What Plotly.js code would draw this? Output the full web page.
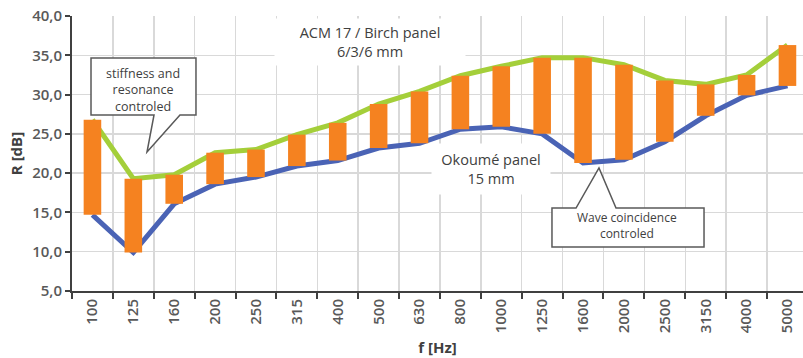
<!DOCTYPE html>
<html>
<head>
<meta charset="utf-8">
<script src="https://cdn.plot.ly/plotly-3.0.1.min.js"></script>
<style>html,body{margin:0;padding:0;background:#fff;}#chart{width:803px;height:358px;}</style>
</head>
<body>
<div id="chart"></div>
<script>
// Frequency bands (Hz)
const freqs = ["100","125","160","200","250","315","400","500","630","800","1000","1250","1600","2000","2500","3150","4000","5000"];
// ACM 17 / Birch panel 6/3/6 mm, R [dB]
const acmBirch = [26.8, 19.3, 19.8, 22.6, 23.0, 24.9, 26.4, 28.8, 30.4, 32.4, 33.6, 34.7, 34.7, 33.8, 31.8, 31.3, 32.5, 36.3];
// Okoumé panel 15 mm, R [dB]
const okoume = [14.7, 9.9, 16.1, 18.6, 19.5, 20.9, 21.6, 23.2, 23.8, 25.6, 25.9, 25.0, 21.3, 21.7, 24.0, 27.3, 29.9, 31.1];
const yTicks = [5, 10, 15, 20, 25, 30, 35, 40];

const gain = acmBirch.map((v, i) => v - okoume[i]);

// pixel -> paper helpers for decorations
const L = 72, T = 16, W = 731, H = 275;
const px = x => (x - L) / W;
const py = y => (T + H - y) / H;
const path = pts => 'M ' + pts.map(p => px(p[0]).toFixed(4) + ',' + py(p[1]).toFixed(4)).join(' L ') + ' Z';

const xr = [-0.5, 17.38];
const traces = [
  {type: 'scatter', mode: 'lines', x: freqs, y: okoume, name: 'Okoumé panel 15 mm',
   line: {color: '#4a63b5', width: 5}, xaxis: 'x', yaxis: 'y', hoverinfo: 'skip'},
  {type: 'scatter', mode: 'lines', x: freqs, y: acmBirch, name: 'ACM 17 / Birch panel 6/3/6 mm',
   line: {color: '#a4cf3a', width: 5}, xaxis: 'x', yaxis: 'y', hoverinfo: 'skip'},
  {type: 'bar', x: freqs, y: gain, base: okoume, width: 0.43, marker: {color: '#f58220'},
   xaxis: 'x2', yaxis: 'y2', hoverinfo: 'skip'}
];

const tickFont = {family: 'Open Sans, DejaVu Sans, sans-serif', size: 15, color: '#595959', weight: 600};
const annFont = {family: 'Open Sans, sans-serif', size: 14.5, color: '#404040'};
const layout = {
  width: 803, height: 358,
  margin: {l: L, r: 0, t: T, b: 358 - T - H},
  paper_bgcolor: '#fff', plot_bgcolor: '#fff',
  showlegend: false,
  separators: ', ',
  barmode: 'overlay',
  xaxis: {
    type: 'category', range: xr, tickson: 'boundaries',
    showgrid: true, gridcolor: '#d9d9d9', gridwidth: 1.5,
    showline: true, linecolor: '#404040', linewidth: 2,
    ticks: 'outside', ticklen: 6, tickcolor: '#404040', tickwidth: 2,
    tickangle: -90, tickfont: tickFont, automargin: false,
    title: {text: 'f [Hz]', font: {family: 'Open Sans, DejaVu Sans, sans-serif', size: 15, color: '#404040', weight: 700}, standoff: 10}
  },
  yaxis: {
    range: [5, 40], tickvals: yTicks, tickformat: '.1f',
    showgrid: true, gridcolor: '#d9d9d9', gridwidth: 1.5, zeroline: false,
    showline: true, linecolor: '#404040', linewidth: 2,
    ticks: 'outside', ticklen: 5, tickcolor: '#404040', tickwidth: 2,
    tickfont: tickFont, automargin: false,
    title: {text: 'R [dB]', font: {family: 'Open Sans, DejaVu Sans, sans-serif', size: 15, color: '#404040', weight: 700}, standoff: 6}
  },
  xaxis2: {type: 'category', range: xr, overlaying: 'x', visible: false},
  yaxis2: {range: [5, 40], overlaying: 'y', visible: false},
  shapes: [
    {type: 'path', xref: 'paper', yref: 'paper', fillcolor: '#fff', line: {color: '#595959', width: 1.5},
     path: path([[91,58],[196,58],[196,115],[180,115],[147,152],[154,115],[91,115]])},
    {type: 'path', xref: 'paper', yref: 'paper', fillcolor: '#fff', line: {color: '#595959', width: 1.5},
     path: path([[552,208],[576,208],[599,168],[616,208],[704,208],[704,247],[552,247]])}
  ],
  annotations: [
    {xref: 'paper', yref: 'paper', x: px(370), y: py(42), xanchor: 'center', yanchor: 'middle',
     text: 'ACM 17 / Birch panel<br>6/3/6 mm',
     showarrow: false, bgcolor: '#fff', width: 188, height: 44, font: annFont},
    {xref: 'paper', yref: 'paper', x: px(491), y: py(169), xanchor: 'center', yanchor: 'middle',
     text: 'Okoumé panel<br>15 mm',
     showarrow: false, bgcolor: '#fff', width: 116, height: 48, font: annFont},
    {xref: 'paper', yref: 'paper', x: px(143), y: py(90), xanchor: 'center', yanchor: 'middle',
     text: 'stiffness and<br>resonance<br>controled',
     showarrow: false, font: {family: 'Open Sans, sans-serif', size: 12.5, color: '#404040'}},
    {xref: 'paper', yref: 'paper', x: px(627), y: py(225), xanchor: 'center', yanchor: 'middle',
     text: 'Wave coincidence<br>controled',
     showarrow: false, font: {family: 'Open Sans, sans-serif', size: 12, color: '#404040'}}
  ]
};

Plotly.newPlot('chart', traces, layout, {displayModeBar: false, staticPlot: true});
</script>
</body>
</html>
